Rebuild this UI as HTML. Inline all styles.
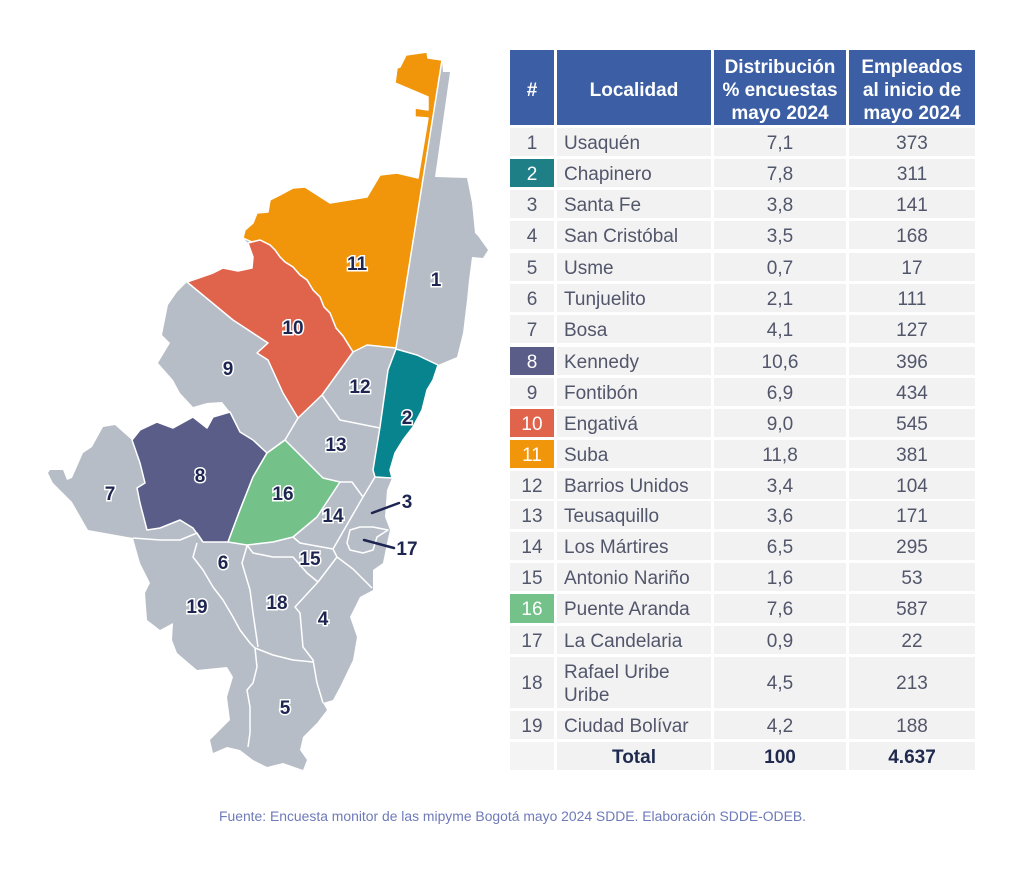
<!DOCTYPE html>
<html><head><meta charset="utf-8">
<style>
html,body{margin:0;padding:0;background:#fff;}
body{width:1024px;height:870px;position:relative;overflow:hidden;font-family:"Liberation Sans",sans-serif;}
.c{position:absolute;display:flex;align-items:center;justify-content:center;background:#f2f2f2;color:#52566b;font-size:19px;box-sizing:border-box;padding-top:3px;}
.h{background:#3b5ea4;color:#fff;font-weight:bold;font-size:19px;line-height:23px;text-align:center;padding-top:5px;}
.l{justify-content:flex-start;padding-left:7px;}
.t{font-weight:bold;color:#1f2a4e;}
.w{color:#fff;}
svg{position:absolute;left:0;top:0;}
</style></head><body>
<svg width="1024" height="870" viewBox="0 0 1024 870">
<g stroke="#fff" stroke-width="1.5" stroke-linejoin="round">
<polygon fill="#b7bdc7" stroke="none" points="397,68 400,67 406,55 427,52 428,58 442,60 443,72 450,72 435,177 467,178 472,203 475,233 478,236 488,250 483,258 472,257 469,280 467,300 463,333 460,345 457,357 438,365 433,380 427,390 422,410 413,427 403,440 395,453 390,470 392,478 387,490 385,517 390,530 387,543 383,563 373,570 373,590 360,597 350,617 357,637 353,660 340,687 333,700 323,703 327,710 317,723 303,737 300,750 307,760 303,770 283,763 267,767 253,760 240,750 227,747 213,753 210,740 230,720 227,697 233,677 227,667 197,670 177,653 172,640 173,623 160,630 147,620 145,593 150,583 140,563 133,538 88,530 72,502 53,483 48,473 50,470 63,470 67,480 72,478 83,453 92,447 103,427 115,425 132,440 140,430 157,422 173,428 193,417 207,428 213,417 230,412 222,402 207,403 193,407 180,393 173,380 158,363 170,343 162,335 165,320 168,305 177,292 187,282 213,273 223,268 238,271 252,268 253,257 248,243 243,238 245,230 253,223 257,213 268,212 270,200 280,195 293,188 305,187 330,203 367,197 380,175 397,173 418,178 428,118 415,117 415,108 428,110 428,97 395,83"/>
<polygon fill="#f1960a" points="397,68 400,67 406,55 427,52 428,58 442,60 396,348 367,345 353,352 343,336 336,328 330,313 324,307 320,297 313,290 307,280 300,275 293,267 285,262 280,257 275,250 270,245 260,240 252,242 243,238 245,230 253,223 257,213 268,212 270,200 280,195 293,188 305,187 330,203 367,197 380,175 397,173 418,178 428,118 415,117 415,108 428,110 428,97 395,83"/>
<polygon fill="#e0634b" points="187,282 213,273 223,268 238,271 252,268 253,257 248,243 252,242 260,240 270,245 275,250 280,257 285,262 293,267 300,275 307,280 313,290 320,297 324,307 330,313 336,328 343,336 353,352 322,395 298,418 283,393 268,360 257,353 268,343 233,320"/>
<polygon fill="#08848f" points="396,349 417,355 438,365 433,380 427,390 422,410 413,427 403,440 395,453 390,470 392,478 375,477 373,470 380,427 388,370"/>
<polygon fill="#595d87" points="132,440 140,430 157,422 173,428 193,417 207,428 213,417 230,412 240,432 253,440 267,453 253,477 240,510 228,542 203,542 193,528 180,520 160,528 147,530 140,503 137,488 145,483 140,463"/>
<polygon fill="#74c18a" points="285,440 323,478 340,482 317,517 293,537 273,542 247,545 228,542 240,510 253,477 267,453"/>
<g fill="none">
<polyline points="298,418 285,440 267,453"/>
<polyline points="322,395 340,420 380,428"/>
<polyline points="340,482 352,482 363,497"/>
<polyline points="375,477 363,497 333,549 337,557 353,569 362,578 372,588"/>
<polyline points="293,537 300,543 333,549"/>
<polyline points="133,538 160,540 180,540 197,533 203,542"/>
<polyline points="247,545 253,553 273,557 293,557 307,573 318,582"/>
<polyline points="318,582 337,557"/>
<polyline points="318,582 295,607 300,613 303,647 313,660 317,683 323,703"/>
<polyline points="247,546 242,563 250,590 253,613 258,647"/>
<polyline points="255,648 273,655 293,660 313,662"/>
<polyline points="197,543 193,557 203,570 213,587 223,600 233,617 240,630 250,643 255,648"/>
<polyline points="255,648 257,667 253,683 247,690 250,707 250,733 248,747"/>
<polygon points="350,530 360,527 373,527 388,530 377,537 373,550 363,553 350,550 347,543"/>
</g>
</g>
<g stroke="#1d2550" stroke-width="2.5" stroke-linecap="round">
<line x1="372" y1="513" x2="399" y2="503"/>
<line x1="364" y1="540" x2="394" y2="548"/>
</g>
<g font-family="Liberation Sans, sans-serif" font-weight="bold" font-size="19" fill="#1d2550" stroke="#fff" stroke-width="3" paint-order="stroke" text-anchor="middle">
<text x="436" y="286">1</text>
<text x="407" y="424">2</text>
<text x="407" y="508">3</text>
<text x="323" y="625">4</text>
<text x="285" y="714">5</text>
<text x="223" y="569">6</text>
<text x="110" y="500">7</text>
<text x="200" y="482">8</text>
<text x="228" y="375">9</text>
<text x="293" y="334">10</text>
<text x="357" y="270">11</text>
<text x="360" y="393">12</text>
<text x="336" y="451">13</text>
<text x="333" y="522">14</text>
<text x="310" y="565">15</text>
<text x="283" y="500">16</text>
<text x="407" y="555">17</text>
<text x="277" y="609">18</text>
<text x="197" y="613">19</text>
</g>
<text x="219" y="821" font-family="Liberation Sans, sans-serif" font-size="13.5" fill="#6e7ab9" textLength="587" lengthAdjust="spacingAndGlyphs">Fuente: Encuesta monitor de las mipyme Bogotá mayo 2024 SDDE. Elaboración SDDE-ODEB.</text>
</svg>

<!-- header -->
<div class="c h" style="left:510px;top:50px;width:44px;height:75px;">#</div>
<div class="c h" style="left:557px;top:50px;width:154px;height:75px;">Localidad</div>
<div class="c h" style="left:714px;top:50px;width:132px;height:75px;">Distribución<br>% encuestas<br>mayo 2024</div>
<div class="c h" style="left:849px;top:50px;width:126px;height:75px;">Empleados<br>al inicio de<br>mayo 2024</div>

<!-- rows -->
<div class="c" style="left:510px;top:128px;width:44px;height:28px;">1</div>
<div class="c l" style="left:557px;top:128px;width:154px;height:28px;">Usaquén</div>
<div class="c" style="left:714px;top:128px;width:132px;height:28px;">7,1</div>
<div class="c" style="left:849px;top:128px;width:126px;height:28px;">373</div>

<div class="c w" style="left:510px;top:159px;width:44px;height:28px;background:#1f7f86;">2</div>
<div class="c l" style="left:557px;top:159px;width:154px;height:28px;">Chapinero</div>
<div class="c" style="left:714px;top:159px;width:132px;height:28px;">7,8</div>
<div class="c" style="left:849px;top:159px;width:126px;height:28px;">311</div>

<div class="c" style="left:510px;top:190px;width:44px;height:28px;">3</div>
<div class="c l" style="left:557px;top:190px;width:154px;height:28px;">Santa Fe</div>
<div class="c" style="left:714px;top:190px;width:132px;height:28px;">3,8</div>
<div class="c" style="left:849px;top:190px;width:126px;height:28px;">141</div>

<div class="c" style="left:510px;top:221px;width:44px;height:28px;">4</div>
<div class="c l" style="left:557px;top:221px;width:154px;height:28px;">San Cristóbal</div>
<div class="c" style="left:714px;top:221px;width:132px;height:28px;">3,5</div>
<div class="c" style="left:849px;top:221px;width:126px;height:28px;">168</div>

<div class="c" style="left:510px;top:253px;width:44px;height:28px;">5</div>
<div class="c l" style="left:557px;top:253px;width:154px;height:28px;">Usme</div>
<div class="c" style="left:714px;top:253px;width:132px;height:28px;">0,7</div>
<div class="c" style="left:849px;top:253px;width:126px;height:28px;">17</div>

<div class="c" style="left:510px;top:284px;width:44px;height:28px;">6</div>
<div class="c l" style="left:557px;top:284px;width:154px;height:28px;">Tunjuelito</div>
<div class="c" style="left:714px;top:284px;width:132px;height:28px;">2,1</div>
<div class="c" style="left:849px;top:284px;width:126px;height:28px;">111</div>

<div class="c" style="left:510px;top:315px;width:44px;height:28px;">7</div>
<div class="c l" style="left:557px;top:315px;width:154px;height:28px;">Bosa</div>
<div class="c" style="left:714px;top:315px;width:132px;height:28px;">4,1</div>
<div class="c" style="left:849px;top:315px;width:126px;height:28px;">127</div>

<div class="c w" style="left:510px;top:347px;width:44px;height:28px;background:#595d87;">8</div>
<div class="c l" style="left:557px;top:347px;width:154px;height:28px;">Kennedy</div>
<div class="c" style="left:714px;top:347px;width:132px;height:28px;">10,6</div>
<div class="c" style="left:849px;top:347px;width:126px;height:28px;">396</div>

<div class="c" style="left:510px;top:378px;width:44px;height:28px;">9</div>
<div class="c l" style="left:557px;top:378px;width:154px;height:28px;">Fontibón</div>
<div class="c" style="left:714px;top:378px;width:132px;height:28px;">6,9</div>
<div class="c" style="left:849px;top:378px;width:126px;height:28px;">434</div>

<div class="c w" style="left:510px;top:409px;width:44px;height:28px;background:#e0634b;">10</div>
<div class="c l" style="left:557px;top:409px;width:154px;height:28px;">Engativá</div>
<div class="c" style="left:714px;top:409px;width:132px;height:28px;">9,0</div>
<div class="c" style="left:849px;top:409px;width:126px;height:28px;">545</div>

<div class="c w" style="left:510px;top:440px;width:44px;height:28px;background:#f1960a;">11</div>
<div class="c l" style="left:557px;top:440px;width:154px;height:28px;">Suba</div>
<div class="c" style="left:714px;top:440px;width:132px;height:28px;">11,8</div>
<div class="c" style="left:849px;top:440px;width:126px;height:28px;">381</div>

<div class="c" style="left:510px;top:471px;width:44px;height:28px;">12</div>
<div class="c l" style="left:557px;top:471px;width:154px;height:28px;">Barrios Unidos</div>
<div class="c" style="left:714px;top:471px;width:132px;height:28px;">3,4</div>
<div class="c" style="left:849px;top:471px;width:126px;height:28px;">104</div>

<div class="c" style="left:510px;top:501px;width:44px;height:28px;">13</div>
<div class="c l" style="left:557px;top:501px;width:154px;height:28px;">Teusaquillo</div>
<div class="c" style="left:714px;top:501px;width:132px;height:28px;">3,6</div>
<div class="c" style="left:849px;top:501px;width:126px;height:28px;">171</div>

<div class="c" style="left:510px;top:532px;width:44px;height:28px;">14</div>
<div class="c l" style="left:557px;top:532px;width:154px;height:28px;">Los Mártires</div>
<div class="c" style="left:714px;top:532px;width:132px;height:28px;">6,5</div>
<div class="c" style="left:849px;top:532px;width:126px;height:28px;">295</div>

<div class="c" style="left:510px;top:563px;width:44px;height:28px;">15</div>
<div class="c l" style="left:557px;top:563px;width:154px;height:28px;">Antonio Nariño</div>
<div class="c" style="left:714px;top:563px;width:132px;height:28px;">1,6</div>
<div class="c" style="left:849px;top:563px;width:126px;height:28px;">53</div>

<div class="c w" style="left:510px;top:594px;width:44px;height:29px;background:#74c18a;">16</div>
<div class="c l" style="left:557px;top:594px;width:154px;height:29px;">Puente Aranda</div>
<div class="c" style="left:714px;top:594px;width:132px;height:29px;">7,6</div>
<div class="c" style="left:849px;top:594px;width:126px;height:29px;">587</div>

<div class="c" style="left:510px;top:626px;width:44px;height:28px;">17</div>
<div class="c l" style="left:557px;top:626px;width:154px;height:28px;">La Candelaria</div>
<div class="c" style="left:714px;top:626px;width:132px;height:28px;">0,9</div>
<div class="c" style="left:849px;top:626px;width:126px;height:28px;">22</div>

<div class="c" style="left:510px;top:657px;width:44px;height:51px;">18</div>
<div class="c l" style="left:557px;top:657px;width:154px;height:51px;line-height:23px;">Rafael Uribe<br>Uribe</div>
<div class="c" style="left:714px;top:657px;width:132px;height:51px;">4,5</div>
<div class="c" style="left:849px;top:657px;width:126px;height:51px;">213</div>

<div class="c" style="left:510px;top:711px;width:44px;height:28px;">19</div>
<div class="c l" style="left:557px;top:711px;width:154px;height:28px;">Ciudad Bolívar</div>
<div class="c" style="left:714px;top:711px;width:132px;height:28px;">4,2</div>
<div class="c" style="left:849px;top:711px;width:126px;height:28px;">188</div>

<div class="c" style="left:510px;top:742px;width:44px;height:28px;background:#f4f4f4;"></div>
<div class="c t" style="left:557px;top:742px;width:154px;height:28px;">Total</div>
<div class="c t" style="left:714px;top:742px;width:132px;height:28px;">100</div>
<div class="c t" style="left:849px;top:742px;width:126px;height:28px;">4.637</div>
</body></html>
